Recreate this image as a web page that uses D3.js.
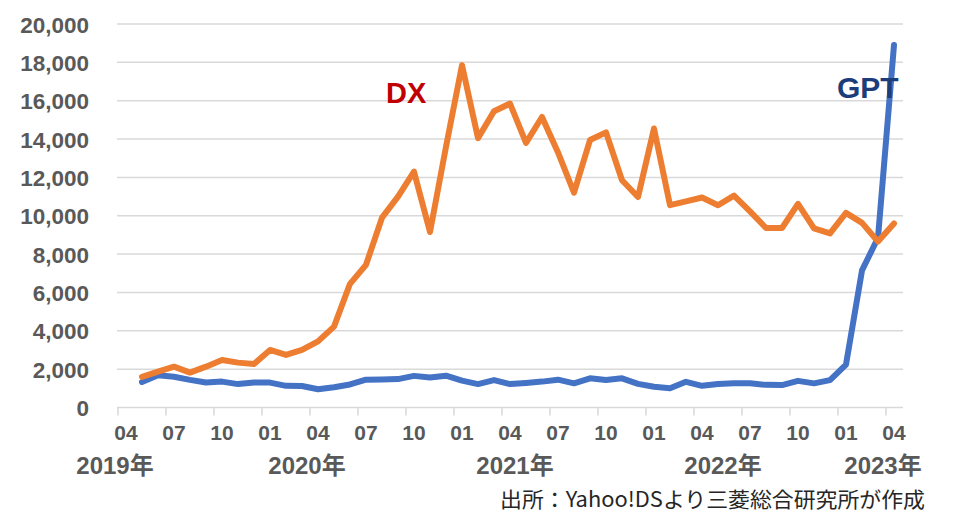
<!DOCTYPE html>
<html>
<head>
<meta charset="utf-8">
<script src="https://cdn.jsdelivr.net/npm/d3@7"></script>
<style>
  html, body { margin: 0; padding: 0; background: #fff; }
  svg { display: block; }
</style>
</head>
<body>
<svg id="chart" width="955" height="522"></svg>
<script>
// ---- data ----
const months = [
  "2019-04","2019-05","2019-06","2019-07","2019-08","2019-09","2019-10","2019-11","2019-12",
  "2020-01","2020-02","2020-03","2020-04","2020-05","2020-06","2020-07","2020-08","2020-09","2020-10","2020-11","2020-12",
  "2021-01","2021-02","2021-03","2021-04","2021-05","2021-06","2021-07","2021-08","2021-09","2021-10","2021-11","2021-12",
  "2022-01","2022-02","2022-03","2022-04","2022-05","2022-06","2022-07","2022-08","2022-09","2022-10","2022-11","2022-12",
  "2023-01","2023-02","2023-03","2023-04"
];
// series start at 2019-05
const seriesMonths = months.slice(1);
const dxValues = [
  1600, 1870, 2130, 1820, 2130, 2480, 2340, 2270, 3000, 2740, 3000, 3450,
  4220, 6450, 7440, 9900, 11000, 12300, 9150, 13600, 17850, 14050, 15450, 15850,
  13800, 15150, 13300, 11200, 13950, 14350, 11850, 10980, 14550, 10550, 10750, 10950,
  10550, 11050, 10230, 9360, 9360, 10620, 9340, 9080, 10150, 9630, 8660, 9600
];
const gptValues = [
  1330, 1680, 1600, 1440, 1300, 1350, 1220, 1300, 1300, 1130, 1120, 950,
  1060, 1200, 1450, 1460, 1480, 1650, 1560, 1660, 1400, 1220, 1430, 1220,
  1280, 1350, 1450, 1260, 1520, 1430, 1520, 1230, 1080, 1000, 1340, 1130,
  1230, 1270, 1270, 1180, 1170, 1390, 1260, 1430, 2240, 7150, 8850, 18900
];
const yTicks = [0, 2000, 4000, 6000, 8000, 10000, 12000, 14000, 16000, 18000, 20000];
const tickMonths = months.filter((m, i) => i % 3 === 0);
const yearLabels = ["2019年", "2020年", "2021年", "2022年", "2023年"];
const yearAnchors = ["2019-04", "2020-04", "2021-05", "2022-06", "2023-04"];
const seriesNames = ["DX", "GPT"];
const sourceText = "出所：Yahoo!DSより三菱総合研究所が作成";

// ---- drawing ----
const svg = d3.select("#chart");
const plotLeft = 118, plotRight = 902, plotTop = 24, plotBottom = 407.5;

const x = d3.scaleBand().domain(months).range([plotLeft, plotRight]).padding(0);
const y = d3.scaleLinear().domain([0, 20000]).range([plotBottom, plotTop]);
const cx = m => x(m) + x.bandwidth() / 2;

const labelColor = "#595959";
const gridColor = "#D9D9D9";

// gridlines
svg.append("g").selectAll("line").data(yTicks.filter(d => d > 0)).join("line")
  .attr("x1", plotLeft - 1).attr("x2", plotRight + 1)
  .attr("y1", d => y(d)).attr("y2", d => y(d))
  .attr("stroke", gridColor).attr("stroke-width", 1.5);

// y axis labels
const yAxis = d3.axisLeft(y).tickValues(yTicks).tickSize(0).tickPadding(0)
  .tickFormat(d3.format(","));
svg.append("g").attr("transform", `translate(89,0)`).call(yAxis)
  .call(g => g.select(".domain").remove())
  .call(g => g.selectAll("text")
    .attr("fill", labelColor)
    .attr("font-family", "Liberation Sans, Arial, sans-serif")
    .attr("font-weight", "bold")
    .attr("font-size", 22.5)
    .attr("dy", "0.36em"));

// x axis line
svg.append("line")
  .attr("x1", plotLeft - 1).attr("x2", plotRight + 1)
  .attr("y1", plotBottom).attr("y2", plotBottom)
  .attr("stroke", gridColor).attr("stroke-width", 1.5);

// tick marks at category boundaries
svg.append("g").selectAll("line").data(tickMonths).join("line")
  .attr("x1", d => x(d)).attr("x2", d => x(d))
  .attr("y1", plotBottom).attr("y2", plotBottom + 8)
  .attr("stroke", gridColor).attr("stroke-width", 1.5);

// month labels
const xAxis = d3.axisBottom(x).tickValues(tickMonths).tickSize(0).tickPadding(0)
  .tickFormat(d => d.slice(5));
svg.append("g").attr("transform", `translate(0,${plotBottom})`).call(xAxis)
  .call(g => g.select(".domain").remove())
  .call(g => g.selectAll("text")
    .attr("fill", labelColor)
    .attr("font-family", "Liberation Sans, Arial, sans-serif")
    .attr("font-weight", "bold")
    .attr("font-size", 21)
    .attr("y", 0).attr("dy", "32"));

// year labels
svg.append("g").selectAll("text").data(yearLabels).join("text")
  .attr("x", (d, i) => x(yearAnchors[i]) - 3)
  .attr("y", 474)
  .attr("text-anchor", "middle")
  .attr("fill", labelColor)
  .attr("font-family", "Liberation Sans, 'Noto Sans CJK JP', sans-serif")
  .attr("font-weight", "bold")
  .attr("font-size", 24)
  .text(d => d);

// lines
const line = d3.line().x(d => cx(d.m)).y(d => y(d.v));
const gptData = seriesMonths.map((m, i) => ({ m, v: gptValues[i] }));
const dxData = seriesMonths.map((m, i) => ({ m, v: dxValues[i] }));

svg.append("path").datum(gptData).attr("d", line)
  .attr("fill", "none").attr("stroke", "#4472C4").attr("stroke-width", 6)
  .attr("stroke-linejoin", "round").attr("stroke-linecap", "round");
svg.append("path").datum(dxData).attr("d", line)
  .attr("fill", "none").attr("stroke", "#ED7D31").attr("stroke-width", 6)
  .attr("stroke-linejoin", "round").attr("stroke-linecap", "round");

// series labels
svg.append("text").attr("x", 386).attr("y", 103)
  .attr("fill", "#C00000")
  .attr("font-family", "Liberation Sans, Arial, sans-serif")
  .attr("font-weight", "bold").attr("font-size", 29)
  .text(seriesNames[0]);
svg.append("text").attr("x", 837).attr("y", 98)
  .attr("fill", "#1C3D7A")
  .attr("font-family", "Liberation Sans, Arial, sans-serif")
  .attr("font-weight", "bold").attr("font-size", 30)
  .text(seriesNames[1]);

// source
svg.append("text").attr("x", 500).attr("y", 507)
  .attr("fill", "#262626")
  .attr("font-family", "'Noto Sans CJK JP', sans-serif")
  .attr("font-size", 21)
  .attr("textLength", 425).attr("lengthAdjust", "spacingAndGlyphs")
  .text(sourceText);
</script>
</body>
</html>
